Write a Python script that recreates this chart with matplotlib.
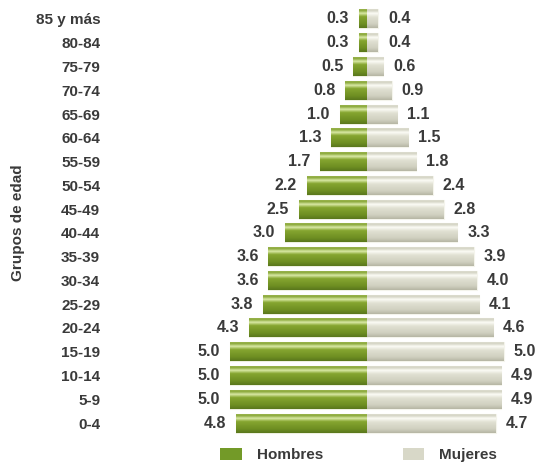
import matplotlib
matplotlib.use("Agg")
import matplotlib.pyplot as plt
import numpy as np
from matplotlib.patches import Patch
from matplotlib.colors import LinearSegmentedColormap

groups = ["0-4", "5-9", "10-14", "15-19", "20-24", "25-29", "30-34", "35-39",
          "40-44", "45-49", "50-54", "55-59", "60-64", "65-69", "70-74",
          "75-79", "80-84", "85 y más"]
hombres = [4.8, 5.0, 5.0, 5.0, 4.3, 3.8, 3.6, 3.6, 3.0, 2.5, 2.2, 1.7, 1.3,
           1.0, 0.8, 0.5, 0.3, 0.3]
mujeres = [4.7, 4.9, 4.9, 5.0, 4.6, 4.1, 4.0, 3.9, 3.3, 2.8, 2.4, 1.8, 1.5,
           1.1, 0.9, 0.6, 0.4, 0.4]

plt.rcParams['font.family'] = ['Liberation Sans', 'DejaVu Sans']

fig = plt.figure(figsize=(5.41, 4.63), dpi=100)
ax = fig.add_axes([0.2, 0.0555, 0.8, 0.9343])

y = np.arange(len(groups))
h = 0.8
green_cmap = LinearSegmentedColormap.from_list(
    "g", [(0, "#a4bc5c"), (0.12, "#8aa83a"), (0.26, "#dbeaa8"), (0.42, "#86a630"),
          (0.8, "#6e8e22"), (1, "#5a771c")])
beige_cmap = LinearSegmentedColormap.from_list(
    "b", [(0, "#e4e4d8"), (0.12, "#d4d4c4"), (0.26, "#fcfcf6"), (0.45, "#e0e0d2"),
          (0.8, "#d0d0c0"), (1, "#b6b6a4")])

bars_h = ax.barh(y, [-v for v in hombres], height=h, color="#7a9a2a",
                 edgecolor="#eef0e0", linewidth=0.8)
bars_m = ax.barh(y, mujeres, height=h, color="#d8d8c8",
                 edgecolor="#f4f4ec", linewidth=0.8)

grad = np.linspace(0, 1, 64).reshape(-1, 1)
for bars, cmap in ((bars_h, green_cmap), (bars_m, beige_cmap)):
    for p in bars:
        x0, y0 = p.get_x(), p.get_y()
        w, hh = p.get_width(), p.get_height()
        xa, xb = min(x0, x0 + w), max(x0, x0 + w)
        im = ax.imshow(grad, cmap=cmap, aspect="auto",
                       extent=(xa, xb, y0, y0 + hh), origin="upper",
                       interpolation="bilinear", zorder=2)
        im.set_clip_path(p)

pad = 0.36
for i in range(len(groups)):
    ax.text(-hombres[i] - pad, y[i], f"{hombres[i]:.1f}", ha="right", va="center",
            fontsize=11.5, fontweight="bold", color="#3a3a3a")
    ax.text(mujeres[i] + pad, y[i], f"{mujeres[i]:.1f}", ha="left", va="center",
            fontsize=11.5, fontweight="bold", color="#3a3a3a")

ax.set_xlim(-9.45, 6.35)
ax.set_ylim(-0.6, 17.6)
ax.set_yticks(y)
ax.set_yticklabels(groups, fontsize=11, fontweight="bold", color="#3a3a3a")
ax.tick_params(axis="y", length=0, pad=5.8)
ax.set_xticks([])
for s in ax.spines.values():
    s.set_visible(False)

fig.text(0.034, 0.518, "Grupos de edad", rotation=90, ha="center", va="center",
         fontsize=11, fontweight="bold", color="#3a3a3a")

handles = [Patch(facecolor="#739a28", edgecolor="none"),
           Patch(facecolor="#d8d8c8", edgecolor="none")]
fig.legend(handles, ["Hombres", "Mujeres"], ncol=2, frameon=False,
           loc="center", bbox_to_anchor=(0.663, 0.017),
           handlelength=1.4, handleheight=0.8, columnspacing=5.2, handletextpad=1.0,
           prop={"weight": "bold", "size": 11})
for t in fig.legends[0].get_texts():
    t.set_color("#3a3a3a")

fig.savefig("out.png", dpi=100)
